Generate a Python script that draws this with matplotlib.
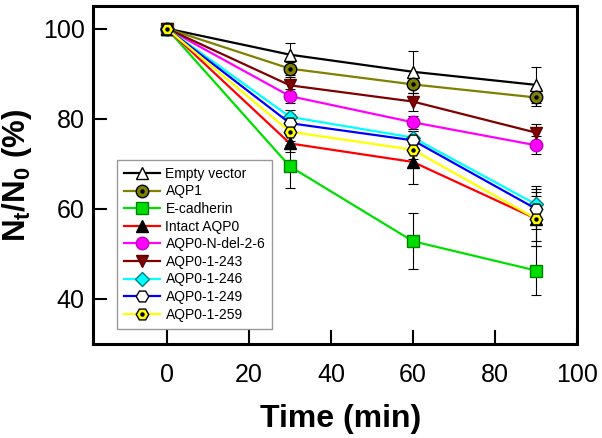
import matplotlib
matplotlib.use("Agg")
import matplotlib.pyplot as plt
from matplotlib.legend_handler import HandlerTuple
import numpy as np

plt.rcParams['font.family'] = ['Liberation Sans', 'DejaVu Sans']
plt.rcParams['mathtext.fontset'] = 'custom'
plt.rcParams['mathtext.rm'] = 'Liberation Sans'
plt.rcParams['mathtext.bf'] = 'Liberation Sans:bold'
plt.rcParams['mathtext.default'] = 'bf'

time = [0, 30, 60, 90]
names = ["Empty vector", "AQP1", "E-cadherin", "Intact AQP0", "AQP0-N-del-2-6",
         "AQP0-1-243", "AQP0-1-246", "AQP0-1-249", "AQP0-1-259"]
empty_vector = [100, 94.2, 90.4, 87.5]
aqp1 = [100, 91.1, 87.6, 84.7]
e_cadherin = [100, 69.4, 52.8, 46.3]
intact_aqp0 = [100, 74.5, 70.4, 57.8]
aqp0_ndel = [100, 85.0, 79.2, 74.1]
aqp0_243 = [100, 87.4, 83.8, 76.9]
aqp0_246 = [100, 80.4, 75.8, 61.0]
aqp0_249 = [100, 79.0, 75.2, 60.0]
aqp0_259 = [100, 77.1, 73.1, 57.8]
values = [empty_vector, aqp1, e_cadherin, intact_aqp0, aqp0_ndel,
          aqp0_243, aqp0_246, aqp0_249, aqp0_259]

err_empty = [0, 2.5, 4.7, 4.0]
err_aqp1 = [0, 1.5, 2.0, 2.0]
err_ecad = [0, 4.8, 6.2, 5.4]
err_intact = [0, 1.8, 4.8, 5.0]
err_ndel = [0, 1.5, 1.5, 2.0]
err_243 = [0, 1.8, 2.0, 2.0]
err_246 = [0, 1.5, 1.5, 4.0]
err_249 = [0, 2.0, 2.0, 4.5]
err_259 = [0, 2.0, 2.0, 6.0]
errors = [err_empty, err_aqp1, err_ecad, err_intact, err_ndel,
          err_243, err_246, err_249, err_259]

line_colors = ['black', '#808000', '#00E000', '#FF0000', '#FF00FF',
               '#800000', '#00FFFF', '#0000FF', '#FFFF00']
markers = ['^', 'o', 's', '^', 'o', 'v', 'D', 'H', 'H']
face_colors = ['white', '#808000', '#00DD00', 'black', '#FF00FF',
               '#800000', '#00FFFF', 'white', '#FFFF00']
edge_colors = ['black', 'black', '#008000', 'black', '#C000C0',
               '#600000', '#008080', 'black', 'black']
msizes = [9, 9, 8, 8, 9, 8.5, 7.5, 9, 9]
center_dot = [False, True, False, False, False, False, False, False, True]

fig = plt.figure(figsize=(6.02, 4.38), dpi=100)
ax = fig.add_axes([93/602, (438-344)/438, (577-93)/602, (344-6)/438])

handles = []
t = np.array(time)
for i in range(len(names)):
    v = np.array(values[i])
    e = np.array(errors[i])
    ax.errorbar(t[1:], v[1:], yerr=e[1:], fmt='none', ecolor='black',
                elinewidth=0.8, capsize=3.5, capthick=0.8, zorder=2 + i * 0.1)
    ln, = ax.plot(t, v, color=line_colors[i], lw=1.6, marker=markers[i],
                  markersize=msizes[i], markerfacecolor=face_colors[i],
                  markeredgecolor=edge_colors[i], markeredgewidth=1.0,
                  zorder=3 + i * 0.1)
    if center_dot[i]:
        dot, = ax.plot(t, v, linestyle='none', marker='o', markersize=2.2,
                       markerfacecolor='black', markeredgecolor='black',
                       zorder=3.05 + i * 0.1)
        handles.append((ln, dot))
    else:
        handles.append(ln)

ax.set_xlim(-18, 100)
ax.set_ylim(30, 105)
ax.set_xticks([0, 20, 40, 60, 80, 100])
ax.set_yticks([40, 60, 80, 100])
ax.tick_params(direction='in', length=10, width=1.5, labelsize=18, pad=14)
ax.tick_params(axis='y', pad=6)
for s in ax.spines.values():
    s.set_linewidth(2.2)

ax.set_xlabel('Time (min)', fontsize=23, fontweight='bold')
ax.xaxis.set_label_coords(0.512, -0.178)
ax.set_ylabel(r'N$_t$/N$_0$ (%)', fontsize=22.5, fontweight='bold', labelpad=6)

leg = ax.legend(handles, names, loc='lower left', bbox_to_anchor=(0.035, 0.025),
                fontsize=10, frameon=True, fancybox=False, edgecolor='#808080',
                handlelength=2.6, handletextpad=0.4, labelspacing=0.26,
                borderpad=0.5,
                handler_map={tuple: HandlerTuple(ndivide=1, pad=0)})
leg.get_frame().set_linewidth(1.0)

fig.savefig('out.png', dpi=100)
